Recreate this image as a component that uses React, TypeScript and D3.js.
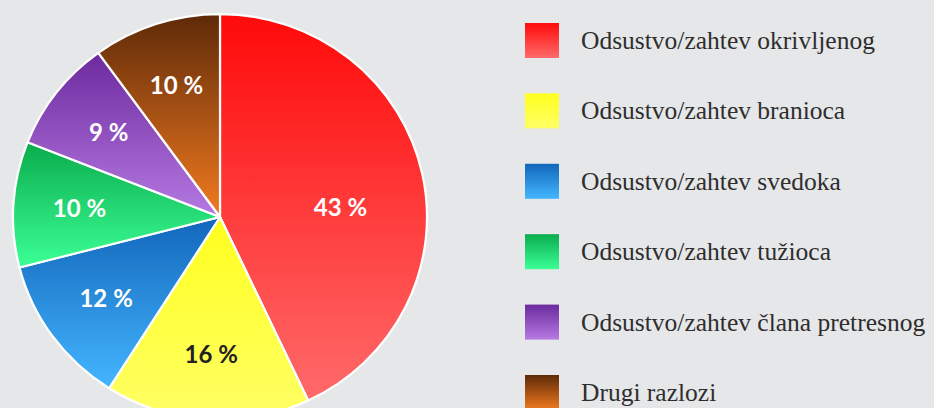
import React from "react";
import * as d3 from "d3";

const categories = [
  "Odsustvo/zahtev okrivljenog",
  "Odsustvo/zahtev branioca",
  "Odsustvo/zahtev svedoka",
  "Odsustvo/zahtev tužioca",
  "Odsustvo/zahtev člana pretresnog",
  "Drugi razlozi",
];
const values = [43, 16, 12, 10, 9, 10];
const gradTop = ["#ff0a0a", "#ffff1e", "#1266bb", "#0aac4c", "#6c2a9e", "#5e2a08"];
const gradBottom = ["#ff6a6a", "#ffff66", "#44b6ff", "#3cff96", "#b67ae2", "#f27a20"];
const labelColors = ["#ffffff", "#222222", "#ffffff", "#ffffff", "#ffffff", "#ffffff"];

const W = 934;
const H = 408;
const cx = 220;
const cy = 217;
const R = 207;
const yScale = 0.98;

export default function App() {
  const pie = d3
    .pie<number>()
    .sort(null)
    .value((d) => d)
    .startAngle(0)
    .endAngle(2 * Math.PI);
  const arcs = pie(values);
  const arcGen = d3.arc<d3.PieArcDatum<number>>().innerRadius(0).outerRadius(R);
  const labelArc = d3
    .arc<d3.PieArcDatum<number>>()
    .innerRadius(R * 0.68)
    .outerRadius(R * 0.68);

  const total = d3.sum(values);
  const legendY = d3.scaleLinear().domain([0, categories.length - 1]).range([23, 375]);

  const labelPos = (a: d3.PieArcDatum<number>) => {
    const [x, y] = labelArc.centroid(a);
    if (a.endAngle - a.startAngle <= Math.PI / 2) return [x, y * yScale];
    // large slice: use its bounding box
    const angles = [a.startAngle, a.endAngle];
    for (let k = 0; k <= 4; k++) {
      const t = (k * Math.PI) / 2;
      if (t > a.startAngle && t < a.endAngle) angles.push(t);
    }
    const xs = [0, ...angles.map((t) => R * Math.sin(t))];
    const ys = [0, ...angles.map((t) => -R * Math.cos(t) * yScale)];
    const bx = (d3.min(xs)! + d3.max(xs)!) / 2;
    const by = (d3.min(ys)! + d3.max(ys)!) / 2;
    return [(x + bx) / 2, by];
  };

  return (
    <svg
      width={W}
      height={H}
      style={{ position: "absolute", left: 0, top: 0, background: "#e6e7e9" }}
    >
      <defs>
        {values.map((_, i) => (
          <linearGradient key={i} id={`g${i}`} x1="0" y1="0" x2="0" y2="1">
            <stop offset="0%" stopColor={gradTop[i]} />
            <stop offset="100%" stopColor={gradBottom[i]} />
          </linearGradient>
        ))}
      </defs>
      <rect x={0} y={0} width={W} height={H} fill="#e6e7e9" />
      <g transform={`translate(${cx},${cy}) scale(1,${yScale})`}>
        {arcs.map((a, i) => (
          <path
            key={i}
            d={arcGen(a) || ""}
            fill={`url(#g${i})`}
            stroke="#ffffff"
            strokeWidth={2.2}
            strokeLinejoin="round"
          />
        ))}
      </g>
      <g transform={`translate(${cx},${cy})`}>
        {arcs.map((a, i) => {
          const [x, y] = labelPos(a);
          return (
            <text
              key={i}
              x={x}
              y={y}
              dy="0.36em"
              textAnchor="middle"
              fill={labelColors[i]}
              style={{ fontFamily: "Lato, sans-serif", fontWeight: 700, fontSize: 24 }}
            >
              {`${Math.round((values[i] / total) * 100)} %`}
            </text>
          );
        })}
      </g>
      <g>
        {categories.map((c, i) => (
          <g key={i} transform={`translate(525,${legendY(i)})`}>
            <rect x={0} y={0} width={34} height={35} fill={`url(#g${i})`} />
            <text
              x={56}
              y={26}
              fill="#2e2e2e"
              style={{ fontFamily: "'Liberation Serif', serif", fontSize: 25.5 }}
            >
              {c}
            </text>
          </g>
        ))}
      </g>
    </svg>
  );
}
